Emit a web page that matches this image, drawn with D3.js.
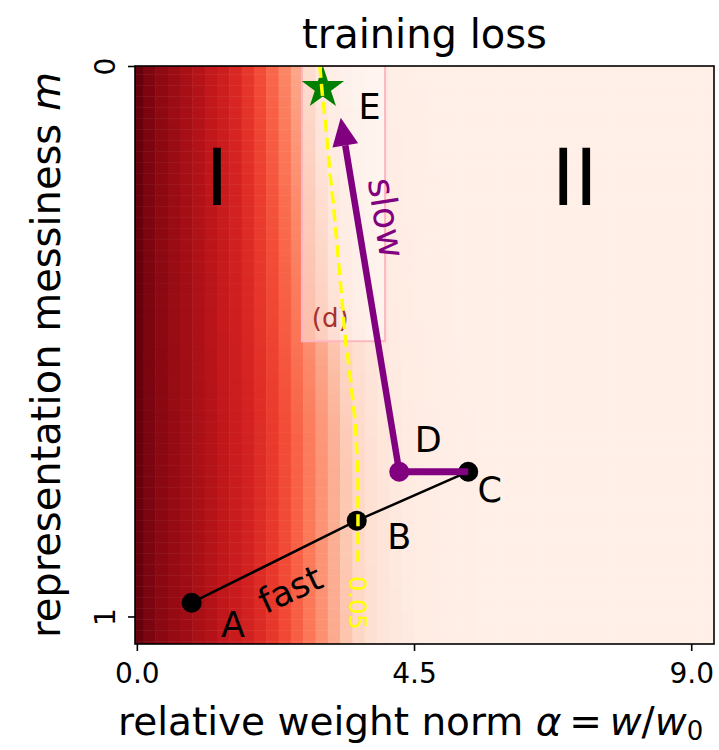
<!DOCTYPE html>
<html>
<head>
<meta charset="utf-8">
<script src="https://cdn.jsdelivr.net/npm/d3@7"></script>
<style>
  body { margin: 0; background: #fff; }
  text { font-family: 'DejaVu Sans', sans-serif; }
</style>
</head>
<body>
<div id="chart"></div>
<script>
// training loss along alpha (columns every 0.2), read on the row where the 0.05 contour is at alpha 3.52
const alphaStep = 0.2;
const lossProfile = [
  0.340, 0.326, 0.316, 0.306, 0.299, 0.289, 0.279, 0.265, 0.255, 0.245,
  0.230, 0.214, 0.195, 0.172, 0.146, 0.118, 0.090, 0.060, 0.044, 0.034,
  0.027, 0.022, 0.019, 0.017, 0.015, 0.014, 0.014, 0.013, 0.013, 0.013,
  0.013, 0.013, 0.013, 0.013, 0.013, 0.013, 0.013, 0.013, 0.013, 0.013,
  0.013, 0.013, 0.013, 0.013, 0.013, 0.013, 0.013, 0.013
];
const profileContourAlpha = 3.52;
const lossMax = 0.34;

// the 0.05 contour: alpha at m = 0, 0.05, ..., 1.05
const contourM = [
  0, 0.05, 0.1, 0.15, 0.2, 0.25, 0.3, 0.35, 0.4, 0.45, 0.5,
  0.55, 0.6, 0.65, 0.7, 0.75, 0.8, 0.85, 0.9, 0.95, 1.0, 1.05
];
const contourAlpha = [
  2.97, 3.01, 3.06, 3.10, 3.14, 3.19, 3.23, 3.27, 3.31, 3.35, 3.39,
  3.45, 3.50, 3.55, 3.57, 3.59, 3.59, 3.59, 3.59, 3.60, 3.61, 3.62
];
const contourEndM = 0.9;
const contourLabel = { text: '0.05', alpha: 3.57, m: 0.975 };

const fastPath = [
  { name: 'A', alpha: 0.89, m: 0.975 },
  { name: 'B', alpha: 3.57, m: 0.826 },
  { name: 'C', alpha: 5.38, m: 0.737 }
];
const slowPath = [
  { name: 'C', alpha: 5.38, m: 0.737 },
  { name: 'D', alpha: 4.26, m: 0.737 }
];
const arrowTip = { alpha: 3.31, m: 0.094 };
const optimum = { alpha: 3.02, m: 0.04 };
const zoomBox = { alpha0: 2.68, alpha1: 4.03, m0: 0, m1: 0.5 };

const pointLabels = [
  { text: 'A', alpha: 1.56, m: 1.015 },
  { text: 'B', alpha: 4.26, m: 0.855 },
  { text: 'C', alpha: 5.73, m: 0.77 },
  { text: 'D', alpha: 4.73, m: 0.679 },
  { text: 'E', alpha: 3.78, m: 0.074 }
];
const phaseLabels = [
  { text: 'I', alpha: 1.3, m: 0.203 },
  { text: 'II', alpha: 7.11, m: 0.203 }
];

const xTicks = [0, 4.5, 9.0];
const yTicks = [0, 1];

const W = 719, H = 750;
const plot = { left: 135, right: 714, top: 66, bottom: 644 };

const svg = d3
  .select('#chart')
  .append('svg')
  .attr('width', W)
  .attr('height', H)
  .style('display', 'block');

const x = d3.scaleLinear().domain([-0.03, 9.37]).range([plot.left, plot.right]);
const y = d3.scaleLinear().domain([0, 1.05]).range([plot.top, plot.bottom]);
const color = d3.scaleSequential(d3.interpolateReds).domain([0, lossMax]);
const contourAt = d3.scaleLinear().domain(contourM).range(contourAlpha).clamp(true);

svg
  .append('defs')
  .append('clipPath')
  .attr('id', 'clip')
  .append('rect')
  .attr('x', plot.left)
  .attr('y', plot.top)
  .attr('width', plot.right - plot.left)
  .attr('height', plot.bottom - plot.top);

const area = svg.append('g').attr('clip-path', 'url(#clip)');

// sample the loss profile at a (fractional) alpha
function lossAt(a) {
  const i = a / alphaStep;
  if (i <= 0) return lossProfile[0];
  if (i >= lossProfile.length - 1) return lossProfile[lossProfile.length - 1];
  const i0 = Math.floor(i);
  const f = i - i0;
  return lossProfile[i0] * (1 - f) + lossProfile[i0 + 1] * f;
}

// heatmap: each thin row is the profile stretched so its 0.05 level sits on the contour
const rowH = 0.01;
const rows = d3.range(0, 1.05 + rowH / 2, rowH);
const cells = [];
rows.forEach((m) => {
  const k = profileContourAlpha / contourAt(m);
  lossProfile.forEach((_, c) => {
    const a = c * alphaStep;
    cells.push({ a, m, v: lossAt(a * k) });
  });
});

area
  .selectAll('.cell')
  .data(cells)
  .enter()
  .append('rect')
  .attr('class', 'cell')
  .attr('x', (d) => x(d.a - alphaStep / 2))
  .attr('y', (d) => y(d.m - rowH / 2))
  .attr('width', x(alphaStep) - x(0) + 0.5)
  .attr('height', y(rowH) - y(0) + 0.5)
  .attr('fill', (d) => color(d.v));

// zoom-in box (d)
area
  .append('rect')
  .attr('x', x(zoomBox.alpha0))
  .attr('y', y(zoomBox.m0))
  .attr('width', x(zoomBox.alpha1) - x(zoomBox.alpha0))
  .attr('height', y(zoomBox.m1) - y(zoomBox.m0))
  .attr('fill', 'white')
  .attr('fill-opacity', 0.42)
  .attr('stroke', '#ffb6c1')
  .attr('stroke-width', 2);

area
  .append('text')
  .attr('x', x(3.14))
  .attr('y', y(0.457))
  .attr('text-anchor', 'middle')
  .attr('dominant-baseline', 'central')
  .attr('fill', '#a5322d')
  .style('font-size', '26px')
  .text('(d)');

// phases
area
  .selectAll('.phase')
  .data(phaseLabels)
  .enter()
  .append('text')
  .attr('class', 'phase')
  .attr('x', (d) => x(d.alpha))
  .attr('y', (d) => y(d.m))
  .attr('text-anchor', 'middle')
  .attr('dominant-baseline', 'central')
  .style('font-size', '78px')
  .text((d) => d.text);

const line = d3
  .line()
  .x((d) => x(d.alpha))
  .y((d) => y(d.m));

// fast phase
area
  .append('path')
  .attr('d', line(fastPath))
  .attr('fill', 'none')
  .attr('stroke', 'black')
  .attr('stroke-width', 2.5);

area
  .selectAll('.dot')
  .data(fastPath)
  .enter()
  .append('circle')
  .attr('class', 'dot')
  .attr('cx', (d) => x(d.alpha))
  .attr('cy', (d) => y(d.m))
  .attr('r', 10)
  .attr('fill', 'black');

// slow phase
area
  .append('path')
  .attr('d', line(slowPath))
  .attr('fill', 'none')
  .attr('stroke', 'purple')
  .attr('stroke-width', 7);

const D = slowPath[slowPath.length - 1];
area
  .append('circle')
  .attr('cx', x(D.alpha))
  .attr('cy', y(D.m))
  .attr('r', 10)
  .attr('fill', 'purple');

{
  const x0 = x(D.alpha), y0 = y(D.m);
  const x1 = x(arrowTip.alpha), y1 = y(arrowTip.m);
  const len = Math.hypot(x1 - x0, y1 - y0);
  const ux = (x1 - x0) / len, uy = (y1 - y0) / len;
  const headLen = 28, headW = 26;
  const bx = x1 - ux * headLen, by = y1 - uy * headLen;
  area
    .append('line')
    .attr('x1', x0)
    .attr('y1', y0)
    .attr('x2', bx)
    .attr('y2', by)
    .attr('stroke', 'purple')
    .attr('stroke-width', 6.5);
  area
    .append('path')
    .attr(
      'd',
      `M${x1},${y1}L${bx - uy * headW / 2},${by + ux * headW / 2}L${bx + uy * headW / 2},${by - ux * headW / 2}Z`
    )
    .attr('fill', 'purple');
}

// optimum
area
  .append('path')
  .attr('d', d3.symbol(d3.symbolStar).size(560)())
  .attr('transform', `translate(${x(optimum.alpha)},${y(optimum.m)})`)
  .attr('fill', 'green');

// 0.05 contour
const contourPts = contourAlpha
  .map((a, i) => ({ alpha: a, m: contourM[i] }))
  .filter((d) => d.m <= contourEndM + 1e-9);

area
  .append('path')
  .attr('d', line(contourPts))
  .attr('fill', 'none')
  .attr('stroke', 'yellow')
  .attr('stroke-width', 3.5)
  .attr('stroke-dasharray', '12,6');

area
  .append('text')
  .attr('transform', `translate(${x(contourLabel.alpha)},${y(contourLabel.m)}) rotate(90)`)
  .attr('text-anchor', 'middle')
  .attr('dominant-baseline', 'central')
  .attr('fill', 'yellow')
  .style('font-size', '24px')
  .text(contourLabel.text);

// point labels
area
  .selectAll('.plabel')
  .data(pointLabels)
  .enter()
  .append('text')
  .attr('class', 'plabel')
  .attr('x', (d) => x(d.alpha))
  .attr('y', (d) => y(d.m))
  .attr('text-anchor', 'middle')
  .attr('dominant-baseline', 'central')
  .style('font-size', '35px')
  .text((d) => d.text);

area
  .append('text')
  .attr('transform', `translate(${x(2.49)},${y(0.951)}) rotate(-25)`)
  .attr('text-anchor', 'middle')
  .attr('dominant-baseline', 'central')
  .style('font-size', '35px')
  .text('fast');

area
  .append('text')
  .attr('transform', `translate(${x(4.05)},${y(0.276)}) rotate(81)`)
  .attr('text-anchor', 'middle')
  .attr('dominant-baseline', 'central')
  .attr('fill', 'purple')
  .style('font-size', '36px')
  .text('slow');

// frame
svg
  .append('rect')
  .attr('x', plot.left)
  .attr('y', plot.top)
  .attr('width', plot.right - plot.left)
  .attr('height', plot.bottom - plot.top)
  .attr('fill', 'none')
  .attr('stroke', 'black')
  .attr('stroke-width', 1.6);

// axes
const xAxis = svg
  .append('g')
  .attr('transform', `translate(0,${plot.bottom})`)
  .call(
    d3.axisBottom(x).tickValues(xTicks).tickFormat(d3.format('.1f')).tickSize(7).tickPadding(12)
  );
xAxis.select('.domain').remove();
xAxis.selectAll('line').attr('stroke-width', 1.6);
xAxis.selectAll('text').style('font-size', '28px').attr('fill', 'black');

const yAxis = svg
  .append('g')
  .attr('transform', `translate(${plot.left},0)`)
  .call(d3.axisLeft(y).tickValues(yTicks).tickFormat(d3.format('d')).tickSize(7));
yAxis.select('.domain').remove();
yAxis.selectAll('line').attr('stroke-width', 1.6);
yAxis
  .selectAll('text')
  .attr('x', null)
  .attr('dy', null)
  .attr('text-anchor', 'middle')
  .attr('dominant-baseline', 'central')
  .attr('transform', 'translate(-30,0) rotate(-90)')
  .style('font-size', '28px')
  .attr('fill', 'black');

// titles
svg
  .append('text')
  .attr('x', (plot.left + plot.right) / 2)
  .attr('y', 48)
  .attr('text-anchor', 'middle')
  .style('font-size', '40px')
  .text('training loss');

const xl = svg
  .append('text')
  .attr('x', 118)
  .attr('y', 735)
  .style('font-size', '39px');
xl.append('tspan').text('relative weight norm ');
xl.append('tspan').style('font-style', 'italic').text('α');
xl.append('tspan').text('\u2009=\u2009');
xl.append('tspan').style('font-style', 'italic').text('w');
xl.append('tspan').text('/');
xl.append('tspan').style('font-style', 'italic').text('w');
xl.append('tspan').attr('dy', 5).style('font-size', '26px').text('0');

const yl = svg
  .append('text')
  .attr('transform', `translate(60,${(plot.top + plot.bottom) / 2}) rotate(-90)`)
  .attr('text-anchor', 'middle')
  .style('font-size', '40px');
yl.append('tspan').text('representation messiness ');
yl.append('tspan').style('font-style', 'italic').text('m');
</script>
</body>
</html>
